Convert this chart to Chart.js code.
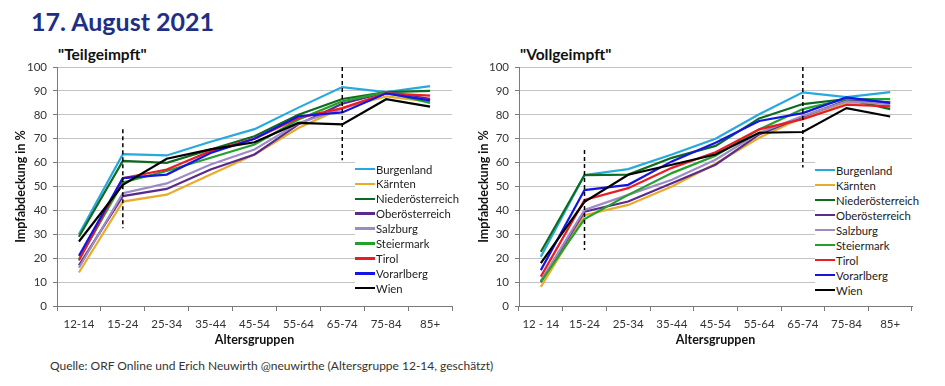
<!DOCTYPE html>
<html>
<head>
<meta charset="utf-8">
<script src="https://cdn.jsdelivr.net/npm/chart.js@4"></script>
<style>
  html, body { margin:0; padding:0; background:#fff; }
  body { width:945px; height:386px; position:relative; overflow:hidden; font-family: Lato, "Open Sans", sans-serif; }
  .box { position:absolute; }
  #title { position:absolute; left:31px; top:6px; font: bold 25px Lato, sans-serif; color:#1f2f86; }
  .sub { position:absolute; top:45px; font: bold 15.5px Lato, sans-serif; color:#111; }
  #src { position:absolute; left:50px; top:358px; font: 12px Lato, sans-serif; color:#333; }
  .legend { position:absolute; background:#fff; }
  .legend .row { position:absolute; left:0; height:14px; display:flex; align-items:center; font: 11.3px Lato, sans-serif; color:#222; white-space:nowrap; }
  .legend .sw { width:20px; height:2.5px; margin-right:1px; }
</style>
</head>
<body>
<div id="title">17. August 2021</div>
<div class="sub" style="left:58px">"Teilgeimpft"</div>
<div class="sub" style="left:520px">"Vollgeimpft"</div>
<div class="box" style="left:0;top:48px;width:462px;height:305px"><canvas id="c1"></canvas></div>
<div class="box" style="left:462px;top:48px;width:460px;height:305px"><canvas id="c2"></canvas></div>
<div class="legend" id="lg1" style="left:355px;top:160px;width:97px;height:138px"></div>
<div class="legend" id="lg2" style="left:815px;top:161px;width:106px;height:138px"></div>
<div id="src">Quelle: ORF Online und Erich Neuwirth @neuwirthe (Altersgruppe 12-14, geschätzt)</div>
<script>
// ---- categories / tick labels ----
const categoriesTeil = ['12-14','15-24','25-34','35-44','45-54','55-64','65-74','75-84','85+'];
const categoriesVoll = ['12 - 14','15-24','25-34','35-44','45-54','55-64','65-74','75-84','85+'];
const states = ['Burgenland','Kärnten','Niederösterreich','Oberösterreich','Salzburg','Steiermark','Tirol','Vorarlberg','Wien'];
const stateColors = ['#27a8df','#e9ac2a','#0d6a1f','#5a2b8c','#9d8bc6','#23a12d','#ec1c24','#1414e6','#000000'];

// ---- "Teilgeimpft" (%) ----
const teilBurgenland       = [30, 63.5, 63.0, 68.7, 74.0, 83.0, 91.6, 89.5, 92.0];
const teilKaernten         = [14, 43.7, 46.6, 55.0, 63.4, 74.5, 82.8, 87.7, 85.5];
const teilNiederoesterreich= [29, 60.7, 59.9, 65.5, 71.0, 80.0, 86.6, 89.5, 90.0];
const teilOberoesterreich  = [17, 46.0, 49.0, 57.1, 63.4, 76.0, 84.6, 89.5, 86.7];
const teilSalzburg         = [16, 47.2, 51.3, 59.2, 65.5, 76.5, 82.5, 89.0, 86.0];
const teilSteiermark       = [19.5, 51.7, 56.5, 62.0, 67.6, 78.0, 85.6, 89.5, 85.0];
const teilTirol            = [19, 53.5, 57.1, 64.8, 70.0, 78.7, 82.8, 89.0, 88.0];
const teilVorarlberg       = [21, 53.5, 55.0, 64.0, 70.0, 79.4, 81.0, 89.0, 86.0];
const teilWien             = [27, 50.7, 61.6, 65.5, 68.5, 76.6, 76.0, 86.5, 83.4];
// dashed marker lines: [category, from, to]
const teilMarkerA = ['15-24', 74, 32.5];
const teilMarkerB = ['65-74', 100, 61];

// ---- "Vollgeimpft" (%) ----
const vollBurgenland       = [20.6, 54.8, 57.3, 63.4, 70.0, 80.2, 89.4, 87.4, 89.5];
const vollKaernten         = [8.0, 38.0, 42.3, 50.0, 59.5, 70.4, 79.0, 85.0, 83.5];
const vollNiederoesterreich= [22.7, 54.8, 55.0, 62.0, 67.0, 78.5, 84.5, 86.6, 82.4];
const vollOberoesterreich  = [10.0, 39.5, 43.7, 51.4, 59.1, 71.8, 79.3, 86.0, 85.2];
const vollSalzburg         = [10.5, 40.2, 46.5, 52.8, 61.2, 72.5, 79.5, 85.6, 84.5];
const vollSteiermark       = [10.2, 36.4, 46.5, 55.6, 62.9, 73.9, 82.4, 86.6, 86.6];
const vollTirol            = [12.3, 44.4, 49.3, 57.8, 64.3, 73.9, 78.2, 84.2, 83.5];
const vollVorarlberg       = [15.0, 48.5, 50.7, 60.5, 68.3, 77.4, 80.7, 87.3, 85.0];
const vollWien             = [17.9, 43.6, 54.9, 59.1, 63.4, 72.5, 72.8, 82.8, 79.3];
const vollMarkerA = ['15-24', 65.3, 23.4];
const vollMarkerB = ['65-74', 100, 58];

const yTicksStep = 5;

const teilSeries = [teilBurgenland, teilKaernten, teilNiederoesterreich, teilOberoesterreich, teilSalzburg, teilSteiermark, teilTirol, teilVorarlberg, teilWien];
const vollSeries = [vollBurgenland, vollKaernten, vollNiederoesterreich, vollOberoesterreich, vollSalzburg, vollSteiermark, vollTirol, vollVorarlberg, vollWien];

function markerDs(m) {
  return { type:'line', label:'', data:[{x:m[0], y:m[1]},{x:m[0], y:m[2]}],
    borderColor:'#000', borderWidth:1.5, borderDash:[4,3], pointRadius:0, order:0, fill:false };
}

function makeChart(id, cats, series, markers, yTitlePad) {
  const datasets = series.map((d,i) => ({
    label: states[i], data: d, borderColor: stateColors[i], backgroundColor: stateColors[i],
    borderWidth: 2.2, pointRadius: 0, tension: 0, order: 9 - i, fill:false
  }));
  markers.forEach(m => datasets.push(markerDs(m)));
  return new Chart(document.getElementById(id), {
    type: 'line',
    data: { labels: cats, datasets },
    options: {
      responsive: true, maintainAspectRatio: false, animation: false,
      layout: { padding: { left: 0, top: 19, right: 10, bottom: 0 } },
      plugins: { legend: { display: false }, tooltip: { enabled: false } },
      scales: {
        x: {
          type: 'category', offset: true,
          grid: { offset: true, drawOnChartArea: false, tickLength: 5, tickColor: '#7a7a7a', tickWidth: 1 },
          border: { color: '#7a7a7a', width: 1 },
          ticks: { font: { family: 'Lato', size: 11.5 }, color: '#333', padding: 6, maxRotation: 0, autoSkip: false },
          title: { display: true, text: 'Altersgruppen', font: { family: 'Lato', size: 12.5, weight: 'bold' }, color: '#111', padding: { top: 0, bottom: 6 } },
          afterFit: s => { s.height = 47; }
        },
        y: {
          min: 0, max: 100,
          grid: { color: '#c4c4c4', lineWidth: 1, tickLength: 4, tickColor: '#7a7a7a' },
          border: { color: '#7a7a7a', width: 1 },
          ticks: { stepSize: yTicksStep, font: { family: 'Lato', size: 11.5 }, color: '#333', padding: 6,
                   callback: v => (v % 10 === 0 ? v : '') },
          title: { display: true, text: 'Impfabdeckung in %', font: { family: 'Lato', size: 12.5, weight: 'bold' }, color: '#111', padding: { top: yTitlePad, bottom: 0 } },
          afterFit: s => { s.width = 57; }
        }
      }
    }
  });
}

makeChart('c1', categoriesTeil, teilSeries, [teilMarkerA, teilMarkerB], 13);
makeChart('c2', categoriesVoll, vollSeries, [vollMarkerA, vollMarkerB], 14);

function buildLegend(id, step) {
  const el = document.getElementById(id);
  states.forEach((s,i) => {
    const r = document.createElement('div');
    r.className = 'row';
    r.style.top = (2 + i*step) + 'px';
    r.innerHTML = '<span class="sw" style="background:'+stateColors[i]+'"></span>' + s;
    el.appendChild(r);
  });
}
buildLegend('lg1', 14.9);
buildLegend('lg2', 15.0);
</script>
</body>
</html>
